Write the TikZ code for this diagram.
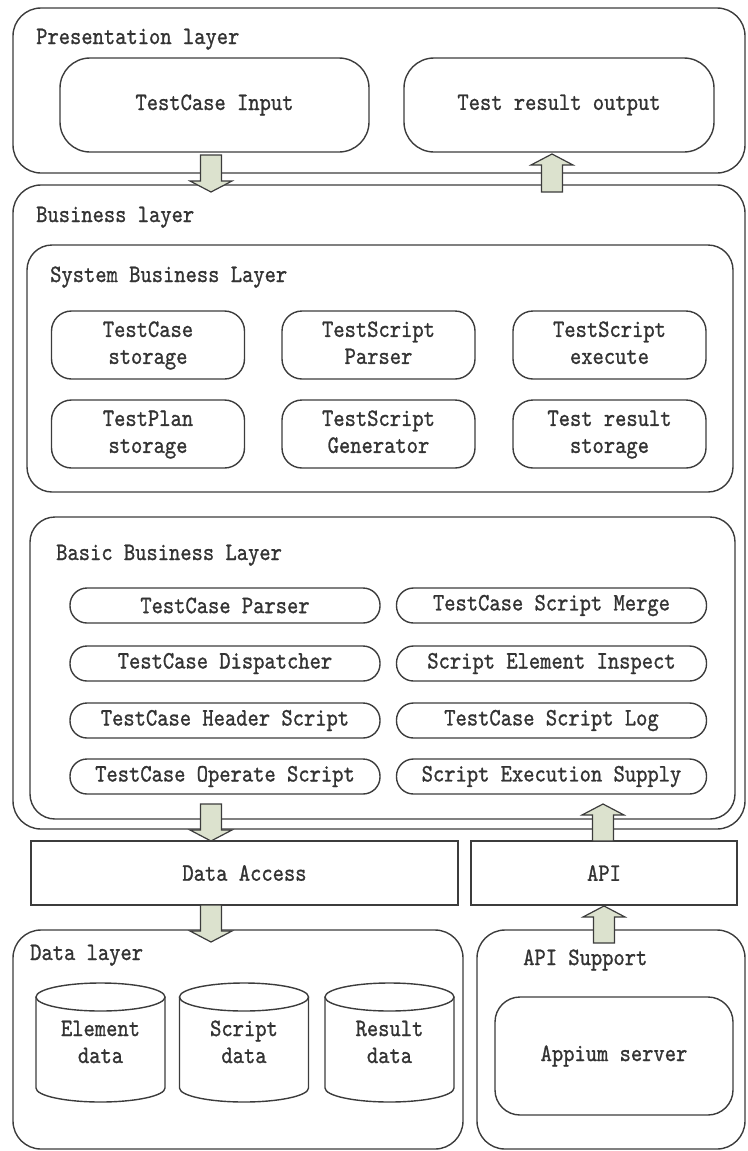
\documentclass[tikz,border=0pt]{standalone}
\usepackage{fontspec}
\setmainfont{lmmono10-regular}[Extension=.otf,FakeStretch=0.86,FakeBold=1]
\usetikzlibrary{calc}
\definecolor{linegray}{HTML}{3C3C3C}
\definecolor{txtgray}{HTML}{333333}
\definecolor{arrowfill}{HTML}{DCE2CE}

% vertical block arrow: shaft starts at #1, point at #2
\newcommand\blockarrow[2]{%
  \filldraw[blockarr] let \p1=(#1), \p2=(#2), \n1={ifthenelse(\y2<\y1,1,-1)} in
    (\x2-10.5pt,\y1) -- (\x2+10.5pt,\y1) -- (\x2+10.5pt,\y2+\n1*11pt)
    -- (\x2+21pt,\y2+\n1*11pt) -- (\x2,\y2) -- (\x2-21pt,\y2+\n1*11pt)
    -- (\x2-10.5pt,\y2+\n1*11pt) -- cycle;}
% two-line label with even line boxes
\newcommand\twolines[2]{\strut#1\\\strut#2}

\begin{document}
\begin{tikzpicture}[x=1pt,y=-1pt,
  every node/.style={text=txtgray,font=\fontsize{25}{27}\selectfont},
  layer/.style={draw=linegray,line width=1.4pt,rounded corners=28pt,inner sep=0pt},
  bigbox/.style={draw=linegray,line width=1.4pt,rounded corners=30pt,inner sep=0pt,align=center},
  smallbox/.style={draw=linegray,line width=1.4pt,rounded corners=20pt,inner sep=0pt,align=center,
    minimum width=193pt,minimum height=68pt},
  pill/.style={draw=linegray,line width=1.4pt,rounded corners=17pt,inner sep=0pt,
    minimum width=310pt,minimum height=35pt},
  plainbox/.style={draw=linegray,line width=1.4pt,inner sep=0pt},
  title/.style={anchor=base west,inner sep=0pt},
  blockarr/.style={draw=linegray,line width=1.2pt,fill=arrowfill},
  drum/.style={draw=linegray,line width=1.4pt}]
\useasboundingbox (0,0) rectangle (747,1151);

% ---------- presentation layer ----------
\node[layer,minimum width=732pt,minimum height=165pt] (pres) at (379,90.5) {};
\node[title] (prest) at (36,44) {Presentation layer};
\node[bigbox,minimum width=309pt,minimum height=94pt] (tcin) at (214.5,105) {TestCase Input};
\node[bigbox,minimum width=310pt,minimum height=94pt] (trout) at (559,105) {Test result output};

% ---------- business layer ----------
\node[layer,minimum width=732pt,minimum height=644pt] (biz) at (379,507) {};
\node[title] (bizt) at (36,222) {Business layer};

\node[layer,rounded corners=25pt,minimum width=706pt,minimum height=247pt] (sys) at (380,368.5) {};
\node[title] (syst) at (50,282) {System Business Layer};
\node[smallbox] (s1) at (148,345) {\twolines{TestCase}{storage}};
\node[smallbox] (s2) at (378.5,345) {\twolines{TestScript}{Parser}};
\node[smallbox] (s3) at (609.5,345) {\twolines{TestScript}{execute}};
\node[smallbox] (s4) at (148,434) {\twolines{TestPlan}{storage}};
\node[smallbox] (s5) at (378.5,434) {\twolines{TestScript}{Generator}};
\node[smallbox] (s6) at (609.5,434) {\twolines{Test result}{storage}};

\node[layer,rounded corners=25pt,minimum width=705pt,minimum height=302pt] (basic) at (382.5,668) {};
\node[title] (basict) at (56,560) {Basic Business Layer};
\node[pill] (b1) at (225,605.5) {TestCase Parser};
\node[pill] (b2) at (225,663.5) {TestCase Dispatcher};
\node[pill] (b3) at (225,720.5) {TestCase Header Script};
\node[pill] (b4) at (225,776.5) {TestCase Operate Script};
\node[pill] (b5) at (551.5,605.5) {TestCase Script Merge};
\node[pill] (b6) at (551.5,663.5) {Script Element Inspect};
\node[pill] (b7) at (551.5,720.5) {TestCase Script Log};
\node[pill] (b8) at (551.5,776.5) {Script Execution Supply};

% ---------- access boxes ----------
\node[plainbox,minimum width=427pt,minimum height=64pt] (da) at (244.5,873) {Data Access};
\node[plainbox,minimum width=266pt,minimum height=64pt] (api) at (604,873) {API};

% ---------- data layer ----------
\node[layer,minimum width=450pt,minimum height=219pt] (data) at (238,1039.5) {};
\node[title] (datat) at (30,960) {Data layer};

\foreach \cx/\nm/\la/\lb in {100.5/elem/Element/data, 244/scr/Script/data, 389.5/res/Result/data}{
  \draw[drum] (\cx-64.5,997) -- (\cx-64.5,1088)
    arc[start angle=180,end angle=0,x radius=64.5,y radius=14] -- (\cx+64.5,997);
  \draw[drum] (\cx,997) ellipse[x radius=64.5,y radius=14];
  \node[align=center,inner sep=0pt,anchor=base] (\nm) at (\cx,1063) {\la\\\lb};
}

% ---------- API support ----------
\node[layer,minimum width=268pt,minimum height=219pt] (apis) at (611,1039.5) {};
\node[title] (apist) at (523,965) {API Support};
\node[bigbox,rounded corners=25pt,minimum width=238pt,minimum height=118pt] (appium) at (614,1056) {Appium server};

% ---------- flow arrows ----------
\coordinate (a1s) at (211,155);  \coordinate (a1e) at (211,192);
\coordinate (a2s) at (552,192);  \coordinate (a2e) at (552,154);
\coordinate (a3s) at (211,804);  \coordinate (a3e) at (211,841);
\coordinate (a4s) at (603,841);  \coordinate (a4e) at (603,804);
\coordinate (a5s) at (211,905);  \coordinate (a5e) at (211,942);
\coordinate (a6s) at (604,943);  \coordinate (a6e) at (604,906);
\blockarrow{a1s}{a1e}
\blockarrow{a2s}{a2e}
\blockarrow{a3s}{a3e}
\blockarrow{a4s}{a4e}
\blockarrow{a5s}{a5e}
\blockarrow{a6s}{a6e}
\end{tikzpicture}
\end{document}
